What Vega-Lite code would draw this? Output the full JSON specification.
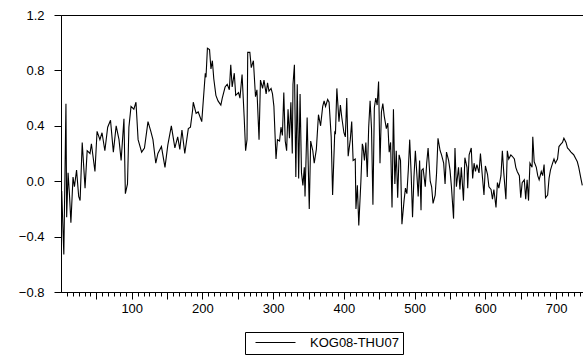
{
  "$schema": "https://vega.github.io/schema/vega-lite/v6.json",
  "width": 522,
  "height": 277,
  "autosize": {"type": "none"},
  "padding": {"left": 61, "top": 15, "right": 0, "bottom": 64},
  "background": "white",
  "config": {
    "view": {"stroke": "black", "strokeWidth": 1},
    "axis": {"domainColor": "black", "tickColor": "black", "labelColor": "black", "labelFont": "Liberation Sans", "labelFontSize": 13, "grid": false, "title": null},
    "legend": {"labelFont": "Liberation Sans", "labelFontSize": 13, "labelColor": "black"}
  },
  "data": {"values": [
    {"t":1,"v":-0.07},{"t":4,"v":-0.53},{"t":7,"v":0.56},{"t":8,"v":-0.26},{"t":10,"v":0.06},{"t":12,"v":-0.1},{"t":14,"v":-0.3},{"t":17,"v":0.03},{"t":19,"v":-0.04},{"t":22,"v":0.08},{"t":25,"v":-0.11},{"t":27,"v":-0.14},{"t":30,"v":0.28},{"t":34,"v":-0.05},{"t":37,"v":0.22},{"t":41,"v":0.2},{"t":43,"v":0.27},{"t":48,"v":0.07},{"t":51,"v":0.36},{"t":55,"v":0.3},{"t":58,"v":0.35},{"t":62,"v":0.22},{"t":66,"v":0.39},{"t":70,"v":0.44},{"t":74,"v":0.21},{"t":78,"v":0.4},{"t":82,"v":0.3},{"t":85,"v":0.15},{"t":89,"v":0.45},{"t":91,"v":-0.09},{"t":94,"v":-0.02},{"t":96,"v":0.39},{"t":99,"v":0.54},{"t":103,"v":0.52},{"t":106,"v":0.57},{"t":109,"v":0.3},{"t":114,"v":0.21},{"t":118,"v":0.24},{"t":123,"v":0.43},{"t":127,"v":0.36},{"t":130,"v":0.3},{"t":134,"v":0.13},{"t":137,"v":0.2},{"t":142,"v":0.25},{"t":147,"v":0.1},{"t":151,"v":0.26},{"t":156,"v":0.4},{"t":161,"v":0.24},{"t":165,"v":0.32},{"t":168,"v":0.23},{"t":171,"v":0.37},{"t":175,"v":0.2},{"t":180,"v":0.38},{"t":183,"v":0.39},{"t":186,"v":0.51},{"t":187,"v":0.57},{"t":191,"v":0.49},{"t":194,"v":0.5},{"t":199,"v":0.43},
    {"t":204,"v":0.78},{"t":205,"v":0.75},{"t":207,"v":0.96},{"t":210,"v":0.95},{"t":212,"v":0.81},{"t":214,"v":0.87},{"t":216,"v":0.74},{"t":219,"v":0.62},{"t":222,"v":0.58},{"t":226,"v":0.55},{"t":228,"v":0.6},{"t":232,"v":0.68},{"t":235,"v":0.7},{"t":238,"v":0.66},{"t":240,"v":0.84},{"t":242,"v":0.68},{"t":245,"v":0.78},{"t":247,"v":0.62},{"t":251,"v":0.64},{"t":253,"v":0.6},{"t":256,"v":0.77},{"t":259,"v":0.46},{"t":261,"v":0.22},{"t":263,"v":0.3},{"t":264,"v":0.93},{"t":267,"v":0.93},{"t":269,"v":0.82},{"t":272,"v":0.87},{"t":275,"v":0.61},{"t":277,"v":0.66},{"t":280,"v":0.3},{"t":282,"v":0.73},{"t":285,"v":0.67},{"t":287,"v":0.73},{"t":290,"v":0.63},{"t":292,"v":0.71},{"t":294,"v":0.65},{"t":297,"v":0.67},{"t":299,"v":0.63},{"t":301,"v":0.54},{"t":304,"v":0.16},{"t":306,"v":0.3},{"t":309,"v":0.29},{"t":311,"v":0.39},{"t":313,"v":0.33},{"t":315,"v":0.64},{"t":317,"v":0.29},{"t":319,"v":0.22},{"t":321,"v":0.52},{"t":323,"v":0.31},{"t":325,"v":0.57},{"t":327,"v":0.2},{"t":328,"v":0.7},{"t":330,"v":0.84},{"t":332,"v":0.03},{"t":334,"v":0.7},{"t":336,"v":0.02},{"t":338,"v":0.63},{"t":340,"v":0.06},{"t":342,"v":-0.03},{"t":344,"v":0.1},{"t":345,"v":-0.11},{"t":348,"v":0.46},{"t":351,"v":-0.2},{"t":353,"v":0.29},{"t":356,"v":0.22},{"t":358,"v":0.13},{"t":361,"v":0.23},{"t":364,"v":0.48},{"t":367,"v":0.4},{"t":370,"v":0.54},
    {"t":372,"v":0.58},{"t":374,"v":0.54},{"t":377,"v":0.59},{"t":379,"v":0.57},{"t":382,"v":0.32},{"t":384,"v":-0.1},{"t":387,"v":0.35},{"t":388,"v":0.34},{"t":390,"v":0.67},{"t":393,"v":0.43},{"t":395,"v":0.55},{"t":397,"v":0.46},{"t":400,"v":0.35},{"t":402,"v":0.32},{"t":404,"v":0.6},{"t":406,"v":0.18},{"t":409,"v":0.3},{"t":411,"v":0.43},{"t":413,"v":0.15},{"t":416,"v":0.16},{"t":417,"v":-0.2},{"t":419,"v":-0.03},{"t":421,"v":-0.32},{"t":424,"v":0.0},{"t":426,"v":0.27},{"t":427,"v":0.25},{"t":429,"v":0.15},{"t":431,"v":0.28},{"t":433,"v":0.03},{"t":435,"v":0.39},{"t":437,"v":0.58},{"t":439,"v":0.38},{"t":441,"v":-0.17},{"t":443,"v":0.53},{"t":445,"v":0.6},{"t":447,"v":0.55},{"t":449,"v":0.72},{"t":451,"v":0.13},{"t":453,"v":0.5},{"t":455,"v":0.56},{"t":457,"v":0.47},{"t":460,"v":0.38},{"t":462,"v":0.42},{"t":464,"v":0.21},{"t":466,"v":0.28},{"t":468,"v":-0.19},{"t":470,"v":0.52},{"t":472,"v":-0.02},{"t":474,"v":0.22},{"t":476,"v":-0.12},{"t":478,"v":0.19},{"t":480,"v":0.15},{"t":482,"v":-0.31},{"t":485,"v":-0.14},{"t":487,"v":-0.05},{"t":489,"v":-0.09},{"t":491,"v":0.08},{"t":493,"v":0.3},{"t":495,"v":0.06},{"t":497,"v":-0.26},{"t":499,"v":0.03},{"t":501,"v":0.22},{"t":503,"v":0.06},{"t":505,"v":-0.11},{"t":507,"v":0.15},{"t":509,"v":-0.21},{"t":510,"v":0.08},{"t":512,"v":0.09},{"t":515,"v":-0.04},{"t":517,"v":0.13},{"t":519,"v":0.24},{"t":522,"v":0.0},{"t":524,"v":-0.04},{"t":526,"v":-0.16},{"t":529,"v":-0.1},{"t":531,"v":0.06},{"t":533,"v":0.31},{"t":536,"v":0.22},{"t":538,"v":0.19},{"t":541,"v":0.13},{"t":543,"v":-0.02},{"t":545,"v":0.21},{"t":548,"v":0.15},{"t":550,"v":0.08},
    {"t":552,"v":-0.04},{"t":555,"v":-0.27},{"t":557,"v":0.24},{"t":559,"v":-0.04},{"t":562,"v":0.1},{"t":564,"v":-0.06},{"t":566,"v":0.1},{"t":569,"v":-0.14},{"t":571,"v":0.17},{"t":574,"v":0.1},{"t":575,"v":-0.05},{"t":577,"v":0.19},{"t":580,"v":0.24},{"t":582,"v":0.02},{"t":584,"v":0.13},{"t":586,"v":0.07},{"t":588,"v":0.12},{"t":591,"v":0.06},{"t":593,"v":0.2},{"t":596,"v":0.02},{"t":598,"v":-0.1},{"t":600,"v":0.11},{"t":603,"v":0.05},{"t":605,"v":-0.04},{"t":608,"v":-0.06},{"t":610,"v":-0.13},{"t":612,"v":-0.06},{"t":615,"v":-0.19},{"t":617,"v":-0.01},{"t":619,"v":-0.05},{"t":622,"v":0.04},{"t":624,"v":0.22},{"t":626,"v":0.06},{"t":629,"v":-0.13},{"t":631,"v":0.22},{"t":633,"v":0.16},{"t":636,"v":0.19},{"t":638,"v":0.18},{"t":641,"v":0.16},{"t":643,"v":0.1},{"t":645,"v":0.07},{"t":648,"v":0.04},{"t":650,"v":-0.12},{"t":652,"v":-0.01},{"t":655,"v":0.01},{"t":657,"v":-0.13},{"t":659,"v":0.01},{"t":661,"v":-0.14},{"t":663,"v":0.13},{"t":666,"v":0.1},{"t":667,"v":0.32},{"t":669,"v":0.14},{"t":672,"v":0.1},{"t":674,"v":0.04},{"t":676,"v":0.01},{"t":679,"v":0.07},{"t":681,"v":0.04},{"t":683,"v":0.12},{"t":685,"v":-0.12},{"t":688,"v":-0.1},{"t":690,"v":0.02},{"t":692,"v":0.08},{"t":695,"v":0.13},{"t":697,"v":0.16},{"t":699,"v":0.13},{"t":702,"v":0.16},{"t":704,"v":0.25},{"t":707,"v":0.27},{"t":709,"v":0.28},{"t":711,"v":0.31},{"t":714,"v":0.28},{"t":716,"v":0.24},{"t":718,"v":0.23},{"t":721,"v":0.21},{"t":723,"v":0.2},{"t":725,"v":0.19},{"t":728,"v":0.16},{"t":730,"v":0.14},{"t":732,"v":0.1},{"t":735,"v":0.02},{"t":737,"v":-0.03}
  ]},
  "mark": {"type": "line", "strokeWidth": 1.1, "interpolate": "linear"},
  "encoding": {
    "x": {
      "field": "t", "type": "quantitative",
      "scale": {"domain": [0, 738], "nice": false, "zero": false},
      "axis": {
        "values": [8.33,16.67,25,33.33,41.67,50,58.33,66.67,75,83.33,91.67,100,108.33,116.67,125,133.33,141.67,150,158.33,166.67,175,183.33,191.67,200,208.33,216.67,225,233.33,241.67,250,258.33,266.67,275,283.33,291.67,300,308.33,316.67,325,333.33,341.67,350,358.33,366.67,375,383.33,391.67,400,408.33,416.67,425,433.33,441.67,450,458.33,466.67,475,483.33,491.67,500,508.33,516.67,525,533.33,541.67,550,558.33,566.67,575,583.33,591.67,600,608.33,616.67,625,633.33,641.67,650,658.33,666.67,675,683.33,691.67,700,708.33,716.67,725,733.33],
        "labelExpr": "datum.value % 100 === 0 ? format(datum.value, 'd') : ''",
        "labelOverlap": false,
        "labelFlush": false,
        "labelBound": false,
        "tickSize": {"condition": {"test": "datum.value % 50 === 0", "value": 7}, "value": 4},
        "labelPadding": 3,
        "domain": true
      }
    },
    "y": {
      "field": "v", "type": "quantitative",
      "scale": {"domain": [-0.8, 1.2], "nice": false, "zero": false},
      "axis": {"values": [-0.8, -0.4, 0, 0.4, 0.8, 1.2], "format": ".1f", "tickSize": 7, "labelPadding": 10}
    },
    "color": {
      "datum": "KOG08-THU07",
      "scale": {"range": ["black"]},
      "legend": {"title": null, "orient": "none", "legendX": 184, "legendY": 317, "strokeColor": "black", "fillColor": "white", "padding": 4, "symbolType": "M-4,0H4", "symbolSize": 100, "symbolStrokeWidth": 1, "symbolOffset": 20, "labelOffset": 28}
    }
  }
}
